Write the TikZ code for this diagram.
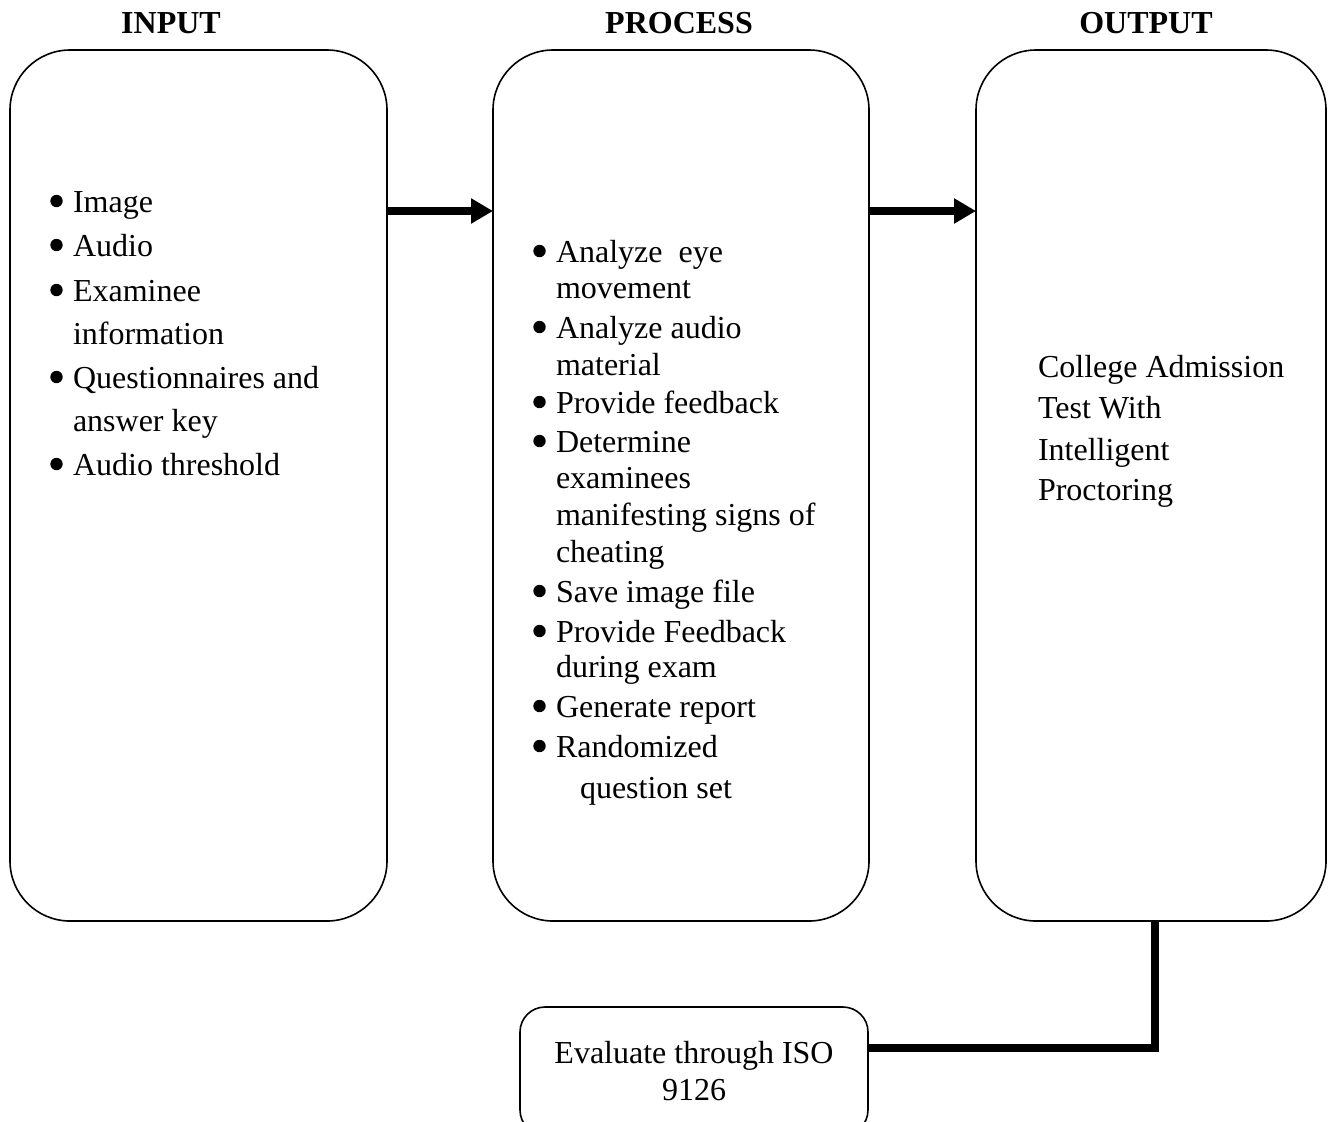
\documentclass[tikz,border=0pt]{standalone}
\usepackage{fontspec}
\setmainfont{Liberation Serif}
\usetikzlibrary{arrows.meta}
\begin{document}
\begin{tikzpicture}[x=0.5pt,y=-0.5pt,
  every node/.style={inner sep=0pt, outer sep=0pt},
  body/.style={font=\fontsize{16}{18.5}\selectfont},
  head/.style={font=\fontsize{16}{18.5}\selectfont\bfseries, anchor=base},
  dot/.style={circle, fill, minimum size=6.2pt},
  panel/.style={draw, line width=0.8pt, rounded corners=30pt,
    minimum width=#1, minimum height=435.5pt},
  flow/.style={line width=4pt, -{Triangle[length=11pt,width=12pt]}},
  link/.style={line width=4pt}]
\useasboundingbox (0,0) rectangle (1333,1121);

% column headings
\node[head] (h-in) at (171,33) {INPUT};
\node[head] (h-proc) at (679,33) {PROCESS};
\node[head] (h-out) at (1146,33) {OUTPUT};

% the three panels
\node[panel=188.5pt] (inbox) at (198.5,485.5) {};
\node[panel=188pt] (procbox) at (681,485.5) {};
\node[panel=175pt] (outbox) at (1151,485.5) {};

% input items
\foreach \yy/\txt/\b [count=\i] in {
  212/Image/1, 256/Audio/1, 301/Examinee/1, 344/information/0,
  388/Questionnaires and/1, 431/answer key/0, 475/Audio threshold/1} {
  \node[body, anchor=base west] (in-\i) at (73,\yy) {\txt};
  \ifnum\b=1 \node[dot] (inb-\i) at (56.5,\yy-11) {}; \fi
}

% process items
\foreach \yy/\txt/\b [count=\i] in {
  262/Analyze~ eye/1, 298/movement/0, 338/Analyze audio/1, 375/material/0,
  413/Provide feedback/1, 452/Determine/1, 488/examinees/0,
  525/manifesting signs of/0, 562/cheating/0, 602/Save image file/1,
  642/Provide Feedback/1, 677/during exam/0, 717/Generate report/1,
  757/Randomized/1} {
  \node[body, anchor=base west] (pr-\i) at (556,\yy) {\txt};
  \ifnum\b=1 \node[dot] (prb-\i) at (539.5,\yy-11) {}; \fi
}
\node[body, anchor=base west] (pr-15) at (580,798) {question set};

% output text
\foreach \yy/\txt [count=\i] in {
  377/College Admission, 418/Test With, 460/Intelligent, 500/Proctoring} {
  \node[body, anchor=base west] (out-\i) at (1038,\yy) {\txt};
}

% evaluation box
\node[draw, line width=0.8pt, rounded corners=12.5pt, minimum width=174pt,
  minimum height=64pt, body, align=center] (evalbox) at (694,1071)
  {Evaluate through ISO\\9126};

% connectors
\coordinate (arrow-y) at (0,211);
\coordinate (drop-x) at (1155,0);
\coordinate (join-y) at (0,1048);
\draw[flow] (inbox.east |- arrow-y) -- (procbox.west |- arrow-y);
\draw[flow] (procbox.east |- arrow-y) -- (outbox.west |- arrow-y);
\draw[link] (outbox.south -| drop-x) |- (evalbox.east |- join-y);
\end{tikzpicture}
\end{document}
